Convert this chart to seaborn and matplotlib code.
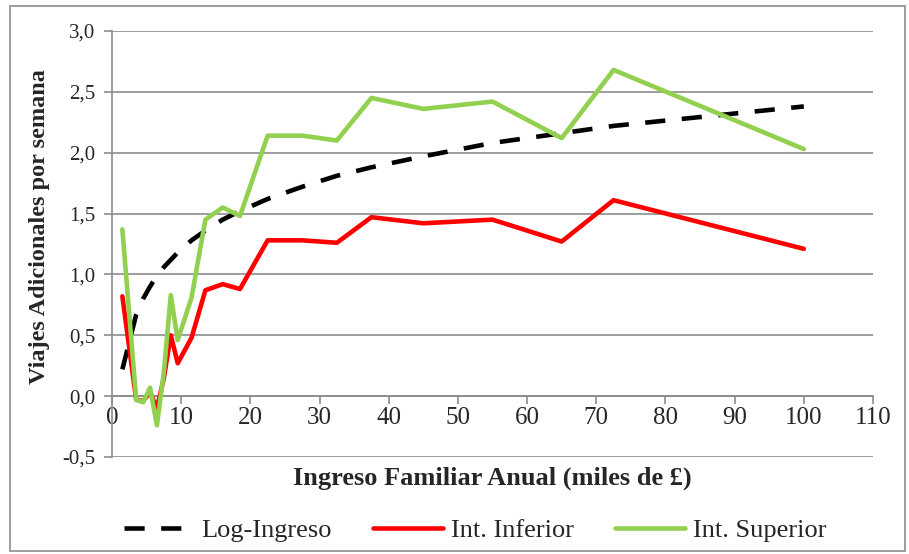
import matplotlib
matplotlib.use("Agg")
import matplotlib.pyplot as plt
import seaborn as sns
import pandas as pd
from matplotlib.ticker import FuncFormatter, MultipleLocator
from matplotlib.patches import Rectangle

# --- Datos ---
ingreso = [1.5, 3.5, 4.5, 5.5, 6.5, 7.5, 8.5, 9.5, 11.5, 13.5, 16, 18.5,
           22.5, 27.5, 32.5, 37.5, 45, 55, 65, 72.5, 100]
log_ingreso = [0.22, 0.67, 0.80, 0.90, 0.99, 1.06, 1.12, 1.18, 1.28, 1.36, 1.45, 1.52,
               1.62, 1.72, 1.81, 1.88, 1.97, 2.08, 2.16, 2.22, 2.38]
int_inferior = [0.82, -0.03, -0.04, 0.03, -0.10, 0.15, 0.50, 0.27, 0.48, 0.87, 0.92, 0.88,
                1.28, 1.28, 1.26, 1.47, 1.42, 1.45, 1.27, 1.61, 1.21]
int_superior = [1.37, -0.03, -0.05, 0.07, -0.24, 0.20, 0.83, 0.46, 0.81, 1.45, 1.55, 1.48,
                2.14, 2.14, 2.10, 2.45, 2.36, 2.42, 2.12, 2.68, 2.03]

series = ["Log-Ingreso", "Int. Inferior", "Int. Superior"]
colores = ["#000000", "#FF0000", "#92D050"]

df = pd.DataFrame({
    "ingreso": ingreso * 3,
    "valor": log_ingreso + int_inferior + int_superior,
    "serie": [s for s in series for _ in ingreso],
})

sns.set_style("white")
plt.rcParams["font.family"] = ["Liberation Serif", "DejaVu Serif"]

fig = plt.figure(figsize=(9.09, 5.54), dpi=100)
ax = fig.add_axes([0.1232, 0.1751, 0.8372, 0.769])

grid_col = "#8c8c8c"

for serie, color in zip(series, colores):
    sub = df[df["serie"] == serie]
    sns.lineplot(data=sub, x="ingreso", y="valor", color=color, lw=3.3,
                 ax=ax, label=serie, sort=False, zorder=3)
ax.lines[0].set_dashes((4.4, 3.6))
ax.lines[0].set_dash_capstyle("butt")

# --- Ejes ---
ax.set_xlim(0, 110)
ax.set_ylim(-0.5, 3.0)
ax.xaxis.set_major_locator(MultipleLocator(10))
ax.yaxis.set_major_locator(MultipleLocator(0.5))
ax.yaxis.set_major_formatter(FuncFormatter(lambda v, p: f"{v:.1f}".replace(".", ",")))

ax.grid(axis="y", color=grid_col, lw=1.2)
ax.grid(axis="x", visible=False)
for s in ["top", "right"]:
    ax.spines[s].set_visible(False)
ax.spines["bottom"].set_position(("data", 0))
ax.spines["left"].set_color(grid_col)
ax.spines["bottom"].set_color(grid_col)
ax.spines["left"].set_linewidth(1.2)
ax.spines["bottom"].set_linewidth(1.2)

ax.tick_params(axis="x", direction="out", length=6, width=1.2, color=grid_col,
               labelsize=18, pad=2, bottom=True)
ax.tick_params(axis="y", direction="out", length=6, width=1.2, color=grid_col,
               labelsize=15, pad=6, left=True)

ax.set_xlabel("Ingreso Familiar Anual (miles de £)", fontsize=19, fontweight="bold")
ax.xaxis.set_label_coords(0.4993, -0.049)
ax.xaxis.label.set_va("center")
ax.set_ylabel("Viajes Adicionales por semana", fontsize=17.5, fontweight="bold")
ax.yaxis.set_label_coords(-0.0946, 0.542)
ax.yaxis.label.set_va("center")

ax.get_legend().remove()
handles, labels = ax.get_legend_handles_labels()
fig.legend(handles, labels, loc="center", bbox_to_anchor=(0.5226, 0.043), ncol=3,
           frameon=False, fontsize=19, handlelength=2.65, handletextpad=0.3,
           columnspacing=1.55)

# marco exterior del gráfico
fig.patches.append(Rectangle((0.011, 0.006), 0.985, 0.983, transform=fig.transFigure,
                             fill=False, edgecolor=grid_col, lw=1.2))

fig.savefig("out.png", dpi=100)
plt.close(fig)
